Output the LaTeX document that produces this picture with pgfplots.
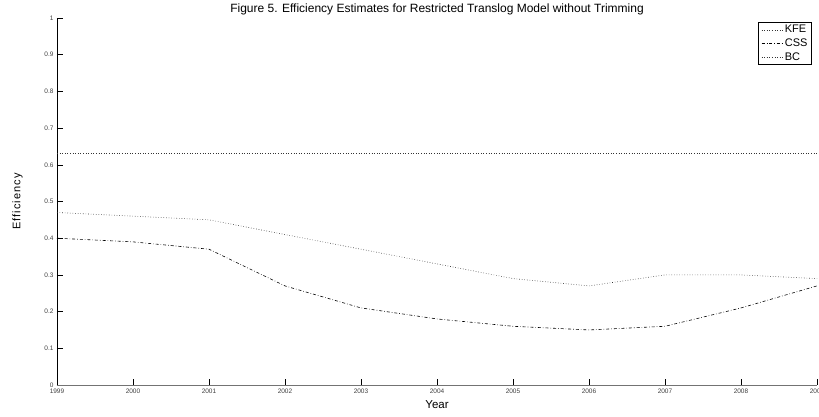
\documentclass[border=0pt]{standalone}
\usepackage{fontspec}
\setmainfont{Liberation Sans}
\usepackage{pgfplots}
\pgfplotsset{compat=1.18}

\begin{document}
\begin{tikzpicture}[x=1pt,y=1pt]
\begin{axis}[
  at={(0,0)}, anchor=origin,
  scale only axis,
  width=760pt, height=367pt,
  xmin=1999, xmax=2009,
  ymin=0, ymax=1,
  xtick={1999,2000,...,2009},
  ytick={0,0.1,...,1},
  x tick label style={/pgf/number format/1000 sep={}},
  y tick label style={/pgf/number format/fixed},
  /pgf/number format/assume math mode=true,
  tick label style={font=\fontsize{6.5}{7}\selectfont, text=black!75},
  axis x line=bottom, axis y line=left,
  x axis line style={-, draw=black!55, line width=1pt},
  y axis line style={-, black, line width=0.6pt},
  tick align=inside,
  major tick length=6.5pt,
  tick style={black, line width=0.6pt},
  xlabel={Year}, ylabel={Efficiency},
  xlabel style={font=\fontsize{11.5}{13}\selectfont, yshift=-1pt},
  ylabel style={font=\fontsize{11}{13}\selectfont\addfontfeatures{LetterSpace=10}, yshift=15pt},
  title={Figure 5. Efficiency Estimates for Restricted Translog Model without Trimming},
  title style={font=\fontsize{12}{14}\selectfont, yshift=-7pt},
  legend style={at={(0.993,0.989)}, anchor=north east, draw=black, line width=0.5pt,
    font=\fontsize{11}{13}\selectfont, inner xsep=3pt, inner ysep=2pt, row sep=2.5pt,
    nodes={inner sep=1pt}},
  legend cell align=left,
  legend image code/.code={\draw[#1] (0pt,0pt) -- (22pt,0pt);},
]
\addplot[black!80, line width=0.6pt, dotted] coordinates {
  (1999,0.47) (2000,0.46) (2001,0.45) (2002,0.41) (2003,0.37) (2004,0.33)
  (2005,0.29) (2006,0.27) (2007,0.30) (2008,0.30) (2009,0.29)};
\addlegendentry{KFE}
\addplot[black, line width=0.6pt, dash dot] coordinates {
  (1999,0.40) (2000,0.39) (2001,0.37) (2002,0.27) (2003,0.21) (2004,0.18)
  (2005,0.16) (2006,0.15) (2007,0.16) (2008,0.21) (2009,0.27)};
\addlegendentry{CSS}
\addplot[black!80, line width=0.6pt, dotted] coordinates {
  (1999,0.63) (2000,0.63) (2001,0.63) (2002,0.63) (2003,0.63) (2004,0.63)
  (2005,0.63) (2006,0.63) (2007,0.63) (2008,0.63) (2009,0.63)};
\addlegendentry{BC}
\end{axis}
\pgfresetboundingbox
\useasboundingbox (-57pt,-31pt) rectangle (762pt,385pt);
\end{tikzpicture}
\end{document}
